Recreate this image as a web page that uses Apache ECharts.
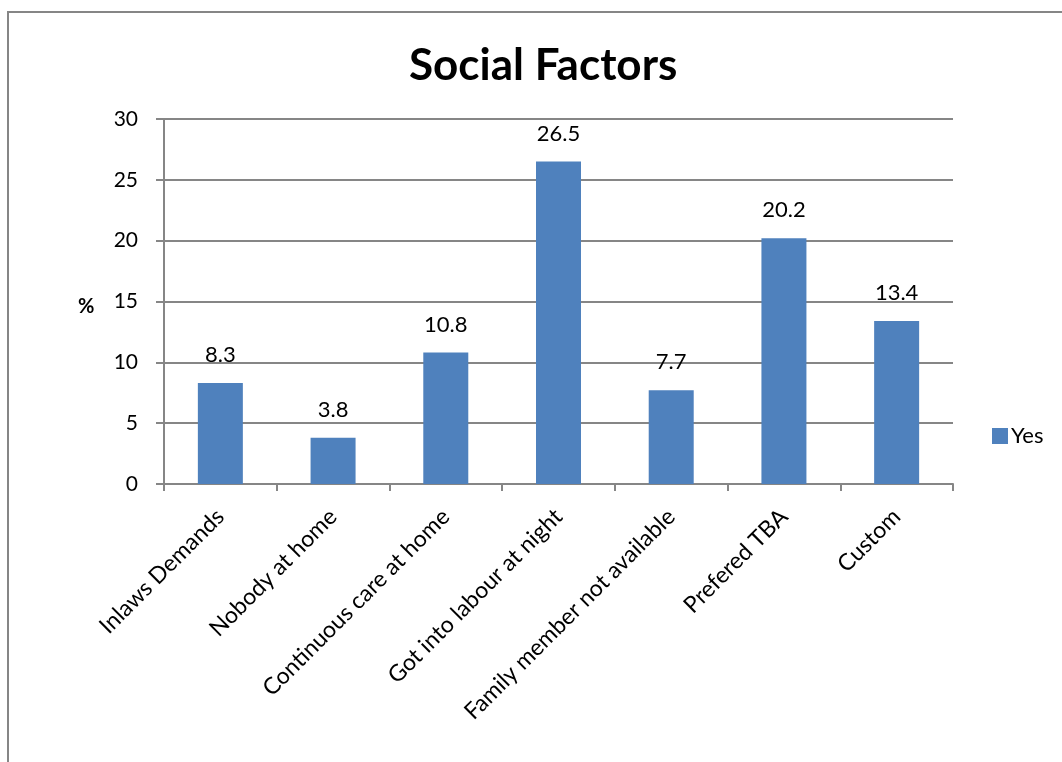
<!DOCTYPE html>
<html>
<head>
<meta charset="utf-8">
<style>
  html, body { margin: 0; padding: 0; background: #ffffff; }
  #chart { width: 1062px; height: 762px; }
</style>
<script src="https://cdn.jsdelivr.net/npm/echarts@6/dist/echarts.min.js"></script>
</head>
<body>
<div id="chart"></div>
<script>
const chartTitle = "Social Factors";
const categories = ["Inlaws Demands", "Nobody at home", "Continuous care at home", "Got into labour at night", "Family member not available", "Prefered TBA", "Custom"];
const seriesName = "Yes";
const yesValues = [8.3, 3.8, 10.8, 26.5, 7.7, 20.2, 13.4];
const yAxisLabel = "%";

const FONT = "Lato, 'Open Sans', sans-serif";
const chart = echarts.init(document.getElementById('chart'), null, { renderer: 'canvas' });
chart.setOption({
  backgroundColor: '#ffffff',
  animation: false,
  title: {
    text: chartTitle,
    left: 404,
    top: 39,
    textStyle: { fontFamily: FONT, fontSize: 44, fontWeight: 'bold', color: '#000000' }
  },
  graphic: [
    { type: 'rect', shape: { x: 8, y: 12, width: 1100, height: 800 },
      style: { fill: 'none', stroke: '#868686', lineWidth: 2 }, silent: true, z: -10 },
    { type: 'text', left: 78, top: 297,
      style: { text: yAxisLabel, fontFamily: FONT, fontSize: 20, fontWeight: 'bold', fill: '#000000' } }
  ],
  legend: {
    data: [seriesName],
    left: 987, top: 420,
    itemWidth: 16, itemHeight: 16, itemGap: 6,
    icon: 'rect',
    textStyle: { fontFamily: FONT, fontSize: 22, color: '#000000', padding: [0, 0, 0, -2] }
  },
  grid: { left: 164, right: 109, top: 119, bottom: 278, containLabel: false },
  xAxis: {
    type: 'category',
    data: categories,
    axisLine: { lineStyle: { color: '#868686', width: 2 } },
    axisTick: { show: true, length: 7, lineStyle: { color: '#868686', width: 2 } },
    axisLabel: { rotate: 45, margin: 29, fontFamily: FONT, fontSize: 23, color: '#000000', interval: 0 }
  },
  yAxis: {
    type: 'value',
    min: 0, max: 30, interval: 5,
    axisLine: { show: true, lineStyle: { color: '#868686', width: 2 } },
    axisTick: { show: true, length: 8, lineStyle: { color: '#868686', width: 2 } },
    axisLabel: { margin: 26, fontFamily: FONT, fontSize: 21, color: '#000000' },
    splitLine: { lineStyle: { color: '#868686', width: 2 } }
  },
  series: [{
    name: seriesName,
    type: 'bar',
    data: yesValues,
    barWidth: 45,
    itemStyle: { color: '#4F81BD' },
    label: { show: true, position: 'top', distance: 17, fontFamily: FONT, fontSize: 22, color: '#000000' }
  }]
});
</script>
</body>
</html>
